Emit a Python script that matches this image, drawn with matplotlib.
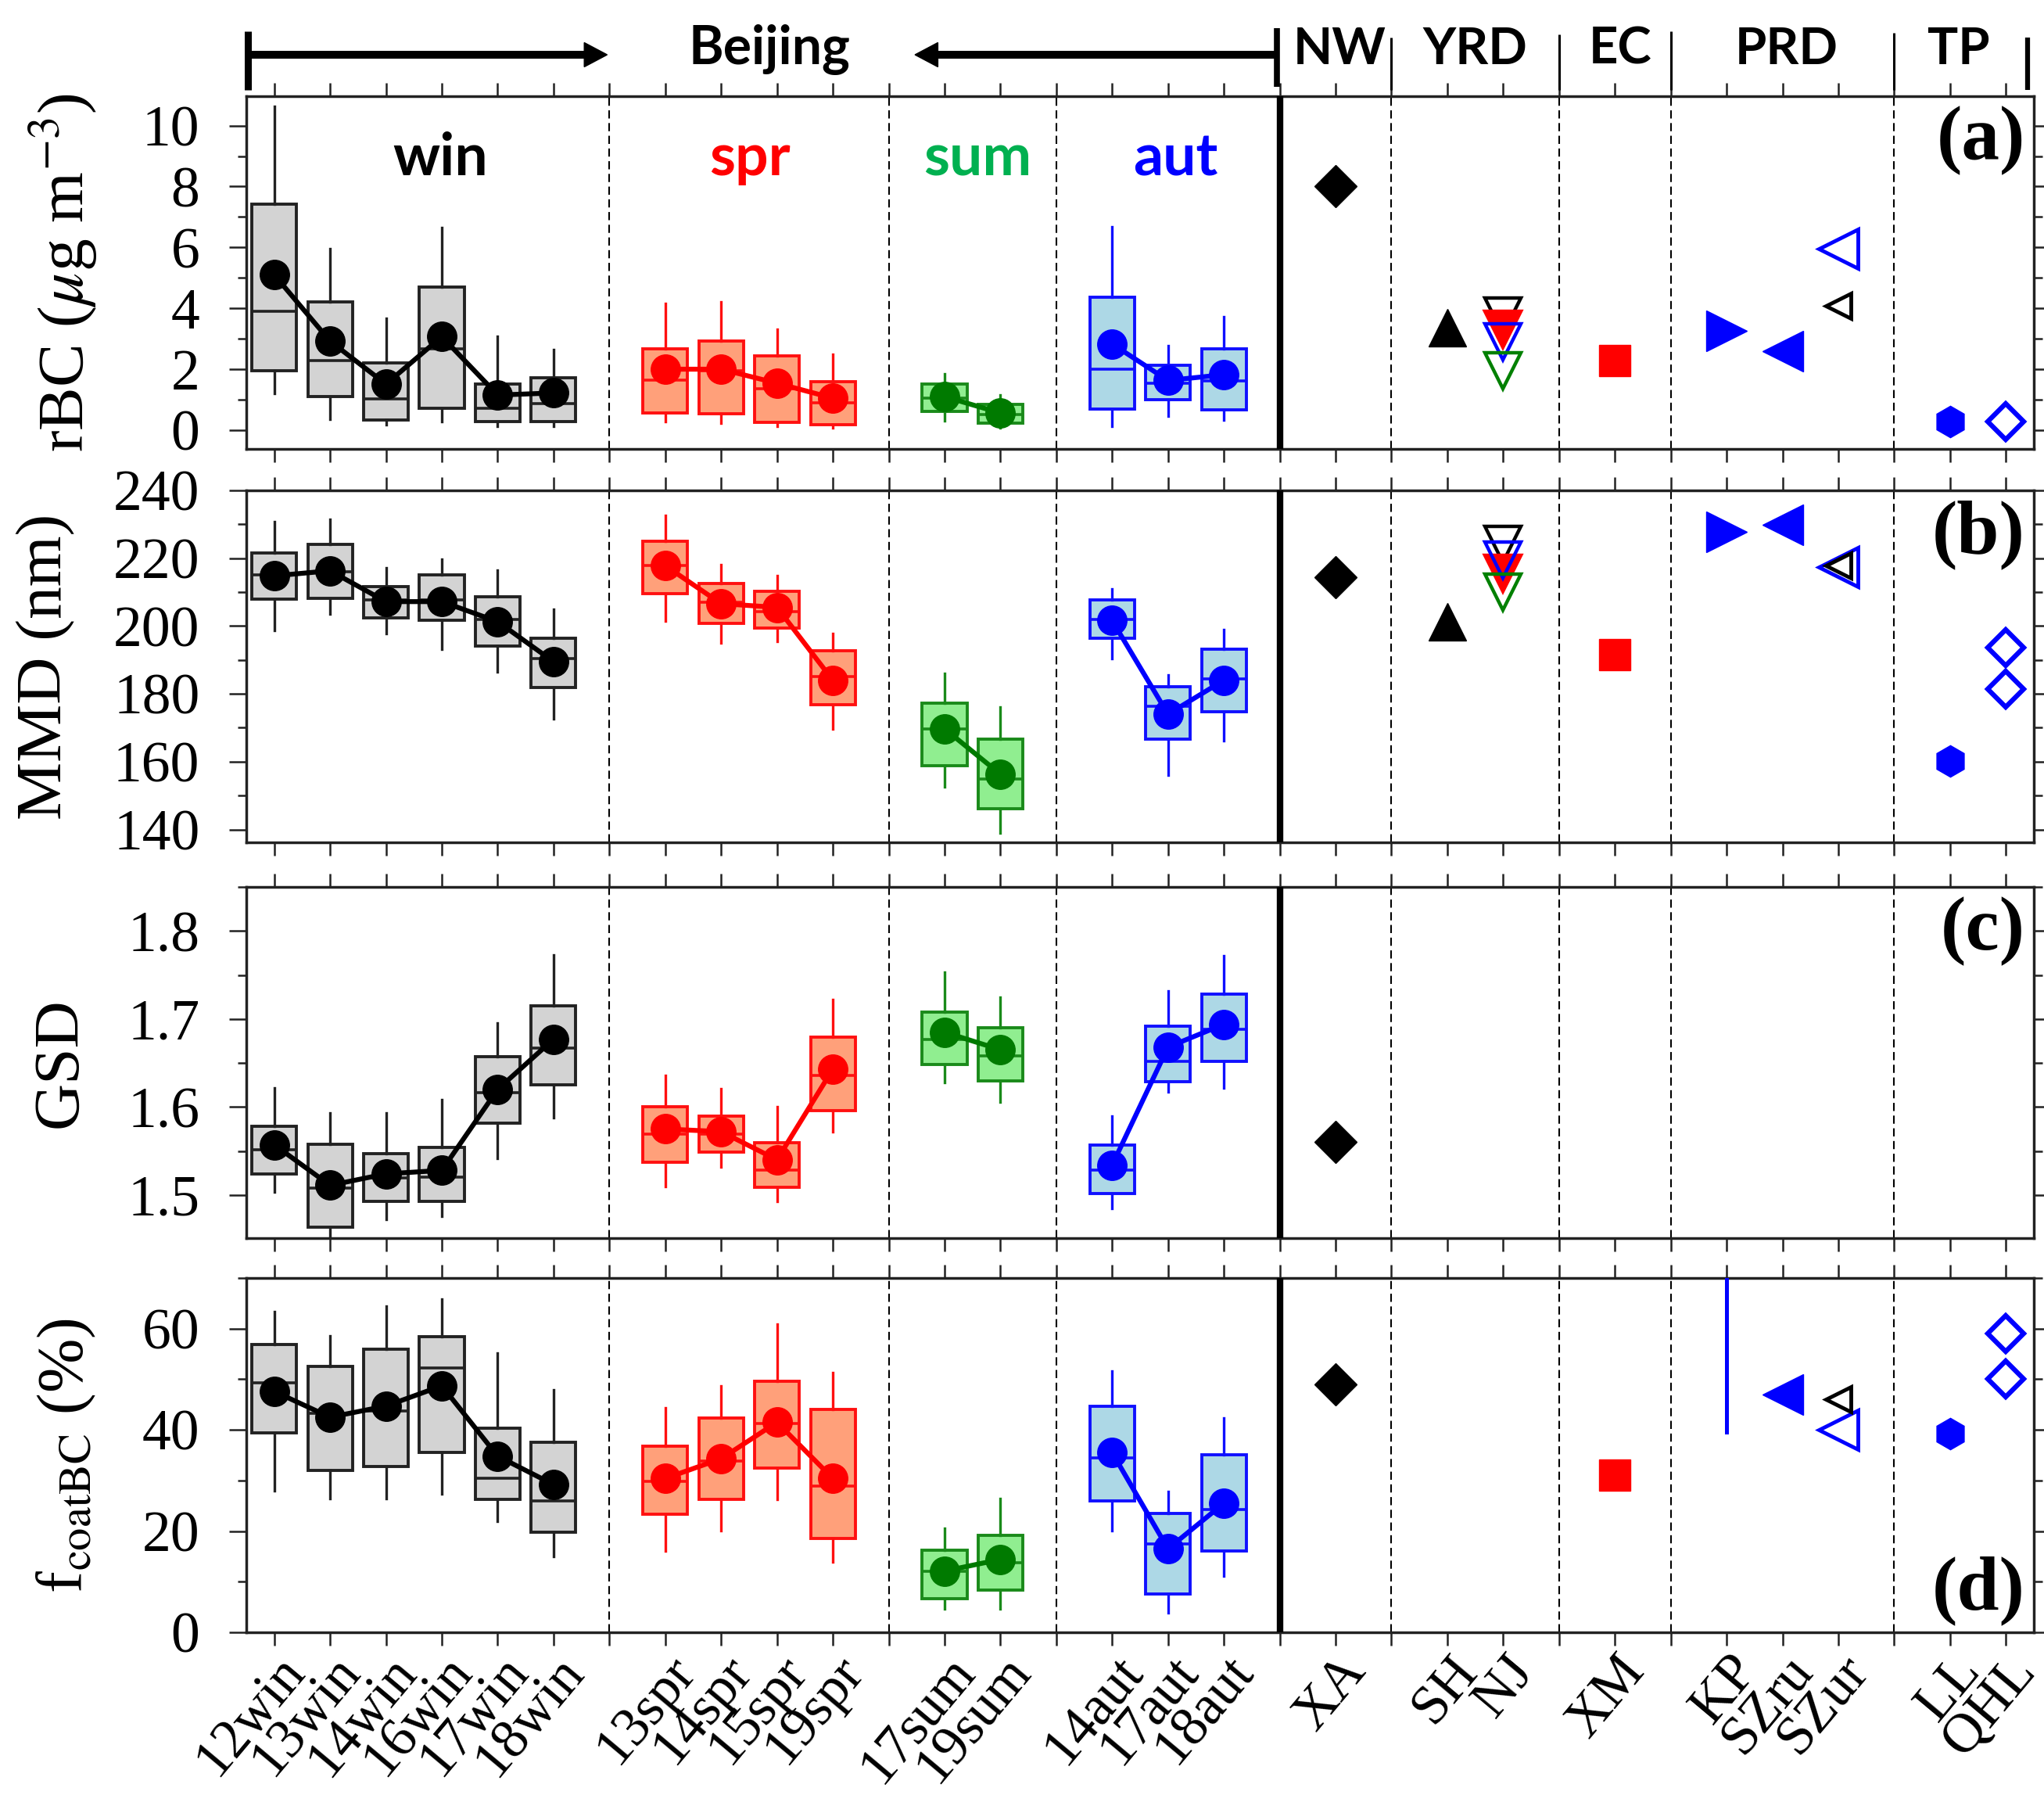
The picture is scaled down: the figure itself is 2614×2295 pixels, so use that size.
import numpy as np
import matplotlib
matplotlib.use('Agg')
import matplotlib.pyplot as plt
from matplotlib.transforms import blended_transform_factory, ScaledTranslation
from matplotlib.patches import Polygon
from matplotlib.lines import Line2D
from matplotlib.ticker import MultipleLocator

W, H, DPI = 2614, 2295, 100
plt.rcParams['font.family'] = ['Liberation Serif', 'DejaVu Serif']
plt.rcParams['mathtext.fontset'] = 'stix'
HEAD_FONT = ['Lato', 'DejaVu Sans']

# ---------------- data ----------------
categories = ['12win', '13win', '14win', '16win', '17win', '18win', '',
              '13spr', '14spr', '15spr', '19spr', '',
              '17sum', '19sum', '',
              '14aut', '17aut', '18aut', '',
              'XA', '', 'SH', 'NJ', '', 'XM', '', 'KP', 'SZru', 'SZur', '',
              'LL', 'QHL']
beijing = ['12win', '13win', '14win', '16win', '17win', '18win',
           '13spr', '14spr', '15spr', '19spr', '17sum', '19sum',
           '14aut', '17aut', '18aut']
season_of = ['win'] * 6 + ['spr'] * 4 + ['sum'] * 2 + ['aut'] * 3
season_names = ['win', 'spr', 'sum', 'aut']
regions = ['NW', 'YRD', 'EC', 'PRD', 'TP']

# rBC (ug m-3)
rbc_lo = [1.20, 0.36, 0.17, 0.27, 0.12, 0.12, 0.27, 0.22, 0.12, 0.07, 0.31, 0.07, 0.13, 0.47, 0.33]
rbc_q1 = [1.94, 1.10, 0.33, 0.71, 0.27, 0.27, 0.56, 0.53, 0.25, 0.17, 0.61, 0.22, 0.69, 0.99, 0.67]
rbc_med = [3.90, 2.28, 1.02, 2.67, 0.71, 0.88, 1.64, 1.94, 1.35, 0.90, 1.05, 0.51, 2.01, 1.55, 1.61]
rbc_q3 = [7.41, 4.20, 2.20, 4.69, 1.51, 1.72, 2.67, 2.92, 2.43, 1.59, 1.51, 0.84, 4.37, 2.14, 2.67]
rbc_hi = [10.64, 5.97, 3.66, 6.66, 3.07, 2.65, 4.15, 4.20, 3.31, 2.48, 1.84, 1.15, 6.68, 2.78, 3.73]
rbc_mean = [5.10, 2.92, 1.51, 3.07, 1.15, 1.22, 2.00, 2.00, 1.54, 1.05, 1.10, 0.56, 2.83, 1.63, 1.82]

# MMD (nm)
mmd_lo = [198.8, 203.5, 197.9, 193.2, 186.6, 172.6, 201.5, 195.1, 195.5, 169.7, 152.6, 139.0, 190.5, 156.1, 166.3]
mmd_q1 = [207.9, 208.2, 202.5, 201.6, 194.0, 181.8, 209.5, 200.7, 199.5, 176.8, 158.8, 146.2, 196.3, 166.7, 174.7]
mmd_med = [215.0, 216.0, 207.6, 207.6, 202.0, 190.3, 217.8, 207.0, 204.3, 185.1, 169.7, 154.9, 202.0, 176.3, 184.4]
mmd_q3 = [221.5, 224.1, 211.6, 215.0, 208.7, 196.5, 225.1, 212.6, 210.3, 192.7, 177.2, 166.7, 207.6, 182.1, 193.2]
mmd_hi = [230.7, 231.5, 217.1, 219.7, 216.5, 205.0, 232.6, 218.2, 214.9, 197.8, 186.1, 176.1, 211.0, 185.5, 199.0]
mmd_mean = [214.8, 216.3, 207.2, 207.2, 201.3, 189.5, 217.8, 206.6, 205.5, 184.0, 169.7, 156.3, 201.6, 174.0, 184.0]

# GSD
gsd_lo = [1.503, 1.440, 1.472, 1.476, 1.542, 1.588, 1.510, 1.532, 1.493, 1.572, 1.628, 1.606, 1.485, 1.617, 1.622]
gsd_q1 = [1.524, 1.463, 1.493, 1.493, 1.582, 1.625, 1.537, 1.549, 1.509, 1.596, 1.648, 1.630, 1.502, 1.629, 1.652]
gsd_med = [1.551, 1.508, 1.519, 1.520, 1.616, 1.667, 1.569, 1.569, 1.528, 1.636, 1.677, 1.658, 1.528, 1.652, 1.688]
gsd_q3 = [1.578, 1.558, 1.547, 1.554, 1.657, 1.715, 1.600, 1.590, 1.559, 1.679, 1.708, 1.690, 1.557, 1.692, 1.728]
gsd_hi = [1.622, 1.593, 1.593, 1.608, 1.695, 1.773, 1.636, 1.621, 1.600, 1.722, 1.753, 1.725, 1.590, 1.732, 1.772]
gsd_mean = [1.557, 1.511, 1.524, 1.528, 1.620, 1.677, 1.575, 1.572, 1.540, 1.643, 1.685, 1.665, 1.534, 1.668, 1.694]

# f_coatBC (%)
fc_lo = [27.9, 26.5, 26.5, 27.4, 21.9, 15.0, 16.0, 20.1, 26.3, 13.9, 4.7, 4.7, 20.1, 3.9, 11.1]
fc_q1 = [39.4, 32.0, 32.7, 35.5, 26.3, 19.8, 23.3, 26.3, 32.5, 18.6, 6.7, 8.4, 26.0, 7.5, 16.0]
fc_med = [49.3, 43.3, 43.8, 52.2, 30.5, 26.0, 29.8, 33.8, 41.2, 28.9, 12.1, 13.7, 34.5, 17.5, 24.2]
fc_q3 = [56.8, 52.6, 55.9, 58.4, 40.4, 37.6, 36.7, 42.3, 49.6, 44.1, 16.2, 19.1, 44.6, 23.5, 35.1]
fc_hi = [63.4, 58.5, 64.4, 65.8, 55.2, 47.9, 44.3, 48.7, 60.9, 51.3, 20.6, 26.4, 51.6, 27.8, 42.4]
fc_mean = [47.6, 42.5, 44.7, 48.7, 34.8, 29.2, 30.4, 34.3, 41.5, 30.4, 12.1, 14.4, 35.5, 16.5, 25.5]

# other sites: values for [rBC, MMD, GSD, fcoatBC]
XA = [8.0, 214.5, 1.56, 49.0]
SH = [3.37, 201.3, None, None]
NJ_black = [3.75, 224.0, None, None]
NJ_red = [3.30, 215.5, None, None]
NJ_blue = [2.90, 219.5, None, None]
NJ_green = [1.95, 210.0, None, None]
XM = [2.29, 191.5, None, 31.0]
KP = [3.27, 227.8, None, None]
KP_fcoat_range = [39.5, 80.0]
SZru = [2.58, 229.9, None, 47.0]
SZur_blue = [5.97, 217.4, None, 40.0]
SZur_black = [4.08, 217.8, None, 46.1]
LL = [0.27, 160.3, None, 39.2]
QHL_1 = [0.27, 193.6, None, 59.0]
QHL_2 = [None, 181.3, None, 50.0]

# ---------------- styles ----------------
season_style = {
    'win': dict(face='#d3d3d3', edge='#222222', mean='black', text='black'),
    'spr': dict(face='#ffa07a', edge='#ff1010', mean='#ff0000', text='#ff0000'),
    'sum': dict(face='#90ee90', edge='#1a8a1a', mean='#007a00', text='#00b050'),
    'aut': dict(face='#add8e6', edge='#1010ff', mean='#0000ff', text='#0000ff'),
}
site_series = [
    (XA, 'XA', 'D', 'black', 'black', 27, 1),
    (SH, 'SH', '^', 'black', 'black', 34, 1),
    (NJ_black, 'NJ', 'v', 'none', 'black', 33, 3.2),
    (NJ_red, 'NJ', 'v', 'red', 'red', 33, 3.2),
    (NJ_blue, 'NJ', 'v', 'none', 'blue', 33, 3.2),
    (NJ_green, 'NJ', 'v', 'none', 'green', 33, 3.2),
    (XM, 'XM', 's', 'red', 'red', 29, 1),
    (KP, 'KP', '>', 'blue', 'blue', 38, 1),
    (SZru, 'SZru', '<', 'blue', 'blue', 38, 1),
    (SZur_blue, 'SZur', '<', 'none', 'blue', 36, 3.5),
    (SZur_black, 'SZur', '<', 'none', 'black', 23, 3.5),
    (LL, 'LL', 'h', 'blue', 'blue', 29, 1),
    (QHL_1, 'QHL', 'D', 'none', 'blue', 23, 4.5),
    (QHL_2, 'QHL', 'D', 'none', 'blue', 23, 4.5),
]

fig = plt.figure(figsize=(W / DPI, H / DPI), dpi=DPI)
L = 315 / W
WD = (2601 - 315) / W


def rect(top, bot):
    return [L, 1 - bot / H, WD, (bot - top) / H]


ax_a = fig.add_axes(rect(122.5, 574))
ax_b = fig.add_axes(rect(627, 1077))
ax_c = fig.add_axes(rect(1134, 1583))
ax_d = fig.add_axes(rect(1634, 2087))
axes = [ax_a, ax_b, ax_c, ax_d]

box_sets = [
    (rbc_lo, rbc_q1, rbc_med, rbc_q3, rbc_hi, rbc_mean),
    (mmd_lo, mmd_q1, mmd_med, mmd_q3, mmd_hi, mmd_mean),
    (gsd_lo, gsd_q1, gsd_med, gsd_q3, gsd_hi, gsd_mean),
    (fc_lo, fc_q1, fc_med, fc_q3, fc_hi, fc_mean),
]
ylims = [(-0.62, 10.98), (136.2, 240), (1.451, 1.850), (0, 70)]
majors = [2, 20, 0.1, 20]
minors = [1, 10, 0.05, 10]
ylabels = [r'rBC ($\mu$g m$^{-3}$)', 'MMD (nm)', 'GSD', r'f$_{\mathrm{coatBC}}$ (%)']
ylabel_x = [-0.082, -0.0955, -0.0875, -0.083]
panel_tags = ['(a)', '(b)', '(c)', '(d)']


def catpos(name):
    return categories.index(name) + 1


for k, ax in enumerate(axes):
    lo, q1, med, q3, hi, mean = box_sets[k]
    for s in season_names:
        st = season_style[s]
        idx = [i for i, ss in enumerate(season_of) if ss == s]
        stats = [dict(whislo=lo[i], q1=q1[i], med=med[i], q3=q3[i], whishi=hi[i], label=beijing[i]) for i in idx]
        pos = [catpos(beijing[i]) for i in idx]
        ax.bxp(stats, positions=pos, widths=0.8, patch_artist=True, showcaps=False,
               showfliers=False, manage_ticks=False, zorder=3,
               boxprops=dict(facecolor=st['face'], edgecolor=st['edge'], linewidth=2.8),
               whiskerprops=dict(color=st['edge'], linewidth=2.4),
               medianprops=dict(color=st['edge'], linewidth=2.6))
        ax.plot(pos, [mean[i] for i in idx], '-o', color=st['mean'], ms=27, lw=4.5, zorder=5)

    for vals, name, mk, fc, ec, ms, mew in site_series:
        v = vals[k]
        if v is not None:
            ax.plot([catpos(name)], [v], linestyle='none', marker=mk, ms=ms,
                    markerfacecolor=fc, markeredgecolor=ec, markeredgewidth=mew, zorder=6)
    if k == 3:
        ax.plot([catpos('KP')] * 2, KP_fcoat_range, color='blue', lw=3.6, zorder=6)

    for xd in [7, 12, 15, 21, 24, 26, 30]:
        ax.axvline(xd, color='black', lw=1.5, ls=(0, (5, 2.8)), zorder=1)
    ax.axvline(19, color='black', lw=6, zorder=7)

    ax.set_xlim(0.5, 32.5)
    ax.set_xticks(np.arange(1, len(categories) + 1))
    ax.yaxis.set_major_locator(MultipleLocator(majors[k]))
    ax.yaxis.set_minor_locator(MultipleLocator(minors[k]))
    ax.set_ylim(*ylims[k])
    ax.tick_params(axis='x', which='major', direction='out', length=12, width=1.8,
                   top=True, bottom=True, labelbottom=False, color='#222222')
    ax.tick_params(axis='y', which='major', direction='out', length=16, width=1.8,
                   left=True, right=True, labelsize=53, pad=27, color='#222222')
    ax.tick_params(axis='y', which='minor', direction='out', length=8, width=1.8,
                   left=True, right=True, color='#222222')
    for sp in ax.spines.values():
        sp.set_linewidth(2.5)
        sp.set_color('#222222')
    ax.set_ylabel(ylabels[k], fontsize=60)
    ax.yaxis.set_label_coords(ylabel_x[k], 0.5)
    if k < 3:
        ax.text(0.9952, 0.972, panel_tags[k], transform=ax.transAxes, ha='right', va='top',
                fontsize=70, fontweight='bold')
    else:
        ax.text(0.9952, 0.02, panel_tags[k], transform=ax.transAxes, ha='right', va='bottom',
                fontsize=70, fontweight='bold')

# season labels
for s, xs in zip(season_names, [3.97, 9.51, 13.59, 17.14]):
    ax_a.text(xs, 8.37, s, ha='center', va='baseline', fontsize=54, fontweight='bold',
              color=season_style[s]['text'], family=HEAD_FONT)

# x labels (bottom panel)
lab_tr = ax_d.get_xaxis_transform() + ScaledTranslation(40 / DPI, -50 / DPI, fig.dpi_scale_trans)
for i, lab in enumerate(categories):
    if lab:
        ax_d.text(i + 1, 0, lab, transform=lab_tr, rotation=50, rotation_mode='anchor',
                  ha='right', va='baseline', fontsize=51, clip_on=False)

# header
tr = blended_transform_factory(ax_a.transData, fig.transFigure)


def fy(px):
    return 1 - px / H


def hline(x0, x1, y, lw):
    fig.add_artist(Line2D([x0, x1], [fy(y), fy(y)], transform=tr, color='black', lw=lw,
                          solid_capstyle='butt'))


def vline(x, y0, y1, lw):
    fig.add_artist(Line2D([x, x], [fy(y0), fy(y1)], transform=tr, color='black', lw=lw,
                          solid_capstyle='butt'))


vline(0.53, 40, 115, 6.5)
hline(0.53, 6.7, 70, 7.2)
fig.add_artist(Polygon([[6.96, fy(70)], [6.55, fy(54.5)], [6.55, fy(85.5)]], closed=True,
                       transform=tr, color='black'))
hline(12.8, 18.95, 70, 7.2)
fig.add_artist(Polygon([[12.47, fy(70)], [12.88, fy(54.5)], [12.88, fy(85.5)]], closed=True,
                       transform=tr, color='black'))
vline(18.95, 36, 111, 5.5)
for xs, y0 in zip([21, 24, 26, 30], [48, 44, 40, 42]):
    vline(xs, y0, 115, 2.2)
vline(32.39, 48, 115, 4.5)

fig.text(9.86, fy(82), 'Beijing', transform=tr, ha='center', va='baseline', fontsize=49,
         fontweight='bold', family=HEAD_FONT)
for r, xs in zip(regions, [20.07, 22.5, 25.1, 28.08, 31.15]):
    fig.text(xs, fy(82), r, transform=tr, ha='center', va='baseline', fontsize=47,
             fontweight='bold', family=HEAD_FONT)

fig.savefig('out.png', dpi=DPI)
